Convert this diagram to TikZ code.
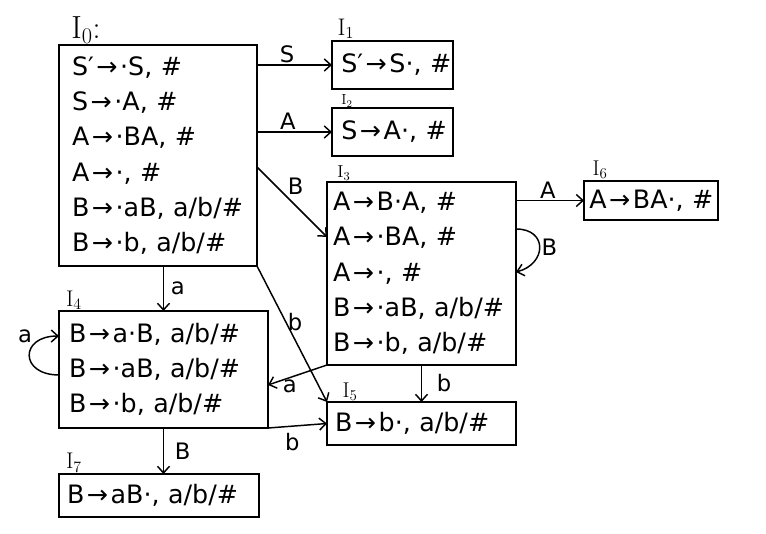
\documentclass[tikz,border=0pt]{standalone}
\usepackage{fontspec}
\newfontfamily\hand{DejaVu Sans}
\newcommand\ar{\mbox{\hspace{0.1em}→\hspace{0.1em}}}
\usetikzlibrary{arrows.meta}
\tikzset{
  state/.style={draw, line width=1.1pt, outer sep=0pt, inner ysep=0pt, align=left,
    anchor=north west, font=\hand\fontsize{19}{26.5}\selectfont},
  tag/.style={font=\rmfamily\fontsize{#1}{#1}\selectfont, inner sep=0pt},
  arr/.style={-{Straight Barb[length=5pt,width=9pt]}, line width=1.1pt},
  lab/.style={font=\hand\fontsize{17}{17}\selectfont, inner sep=1pt},
}
\begin{document}
\begin{tikzpicture}[x=0.75pt,y=-0.75pt]
\useasboundingbox (0,0) rectangle (766,533);

% states
\node[state, text width=129pt, inner xsep=9.75pt, minimum height=165.75pt] (I0) at (59,45)
  {S′\ar·S,~\# \\ S\ar·A,~\# \\ A\ar·BA,~\# \\ A\ar·,~\# \\ B\ar·aB,~a/b/\# \\ B\ar·b,~a/b/\#};
\node[state, text width=82.75pt, inner xsep=4pt, minimum height=36pt] (I1) at (332,41) {\hspace*{3pt}S′\ar S·,~\#};
\node[state, text width=82.75pt, inner xsep=4pt, minimum height=36pt] (I2) at (332,108) {\hspace*{3pt}S\ar A·,~\#};
\node[state, text width=132.75pt, inner xsep=4.5pt, minimum height=137.25pt] (I3) at (327,182)
  {A\ar B·A,~\# \\ A\ar·BA,~\# \\ A\ar·,~\# \\ B\ar·aB,~a/b/\# \\ B\ar·b,~a/b/\#};
\node[state, text width=92.5pt, inner xsep=4pt, minimum height=29.25pt] (I6) at (584,181) {A\ar BA·,~\#};
\node[state, text width=141.75pt, inner xsep=7.5pt, minimum height=87.75pt] (I4) at (59,311)
  {B\ar a·B,~a/b/\# \\ B\ar·aB,~a/b/\# \\ B\ar·b,~a/b/\#};
\node[state, text width=129.75pt, inner xsep=6pt, minimum height=32.25pt] (I5) at (327,402) {B\ar b·,~a/b/\#};
\node[state, text width=138pt, inner xsep=6pt, minimum height=32.25pt] (I7) at (59,474) {B\ar aB·,~a/b/\#};

% state names
\node[tag=24] (t0) at (86,30) {I\textsubscript{0}:};
\node[tag=18] (t1) at (346,29) {I\textsubscript{1}};
\node[tag=11] (t2) at (347,101) {I\textsubscript{2}};
\node[tag=13] (t3) at (344,173) {I\textsubscript{3}};
\node[tag=16] (t6) at (600,170) {I\textsubscript{6}};
\node[tag=17] (t4) at (74,300) {I\textsubscript{4}};
\node[tag=16] (t5) at (350,392) {I\textsubscript{5}};
\node[tag=17] (t7) at (74,463) {I\textsubscript{7}};

% transitions
\draw[arr] (I0.east |- I1.west) -- node[lab, above, pos=0.4] (lS) {S} (I1.west);
\draw[arr] (I0.east |- I2.west) -- node[lab, above, pos=0.41] (lA1) {A} (I2.west);
\draw[arr] ([yshift=-8.6pt]I0.east) -- node[lab, above right, pos=0.42, inner sep=0.5pt] (lB1) {B} ([yshift=27.4pt]I3.west);
\draw[arr] (I4.north |- I0.south) -- node[lab, right=4pt] (la1) {a} (I4.north);
\draw[arr] (I0.south east) -- node[lab, right, pos=0.41] (lb1) {b} (I5.north west);
\draw[arr] (I3.east |- I6.west) -- node[lab, above, pos=0.47] (lA2) {A} (I6.west);
\draw[arr] ([yshift=33.4pt]I3.east) to[out=0, in=15, looseness=1.9] node[lab, right] (lB2) {B} ([yshift=1.1pt]I3.east);
\draw[arr] (I3.south west) -- node[lab, below, pos=0.63] (la2) {a} ([yshift=-11.6pt]I4.east);
\draw[arr] (I3.south) -- node[lab, right=10pt] (lb2) {b} (I3.south |- I5.north);
\draw[arr] (I4.south east) -- node[lab, below=4pt, pos=0.41] (lb3) {b} (I5.west);
\draw[arr] (I4.south) -- node[lab, right=7pt] (lB3) {B} (I4.south |- I7.north);
\draw[arr] ([yshift=-4.1pt]I4.west) to[out=180, in=180, looseness=2.6] node[lab, above left, pos=0.7] (la3) {a} ([yshift=25.1pt]I4.west);
\end{tikzpicture}
\end{document}
